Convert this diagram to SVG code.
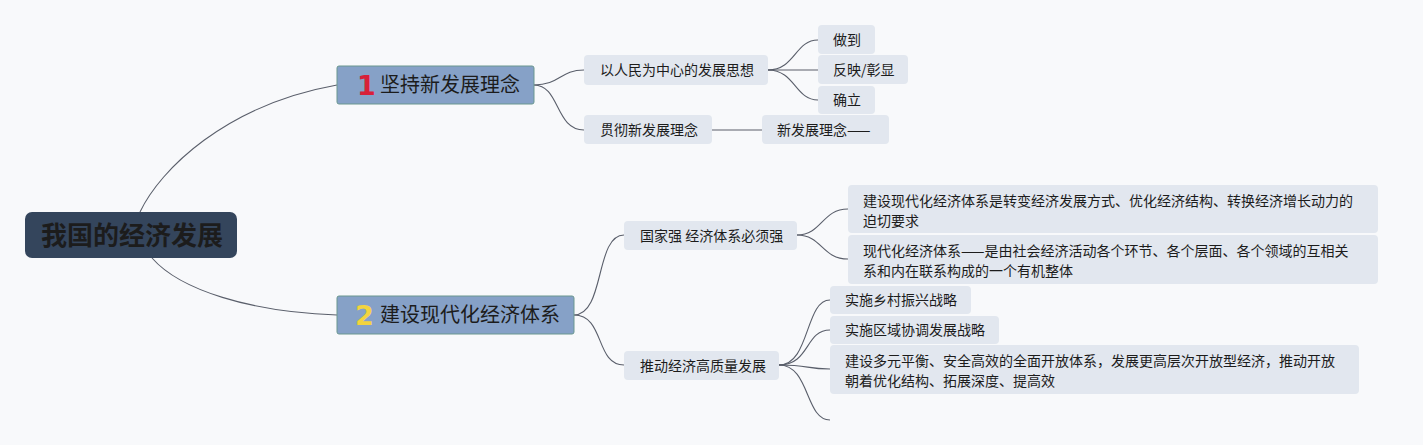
<svg xmlns="http://www.w3.org/2000/svg" width="1423" height="445" viewBox="0 0 1423 445">
<style>
.bg{fill:#f8f9fb}
.c{fill:none;stroke:#5a5f6b;stroke-width:1.1}
.main{fill:#34455c}
.sub{fill:#86a1c7;stroke:#6a978f;stroke-width:1}
.leaf{fill:#e2e7ef}
.t{font-family:"Noto Sans CJK SC","Noto Sans",sans-serif;fill:#1c1c1c}
.s14{font-size:14px}
.s20{font-size:20px}
.num{font-family:"DejaVu Sans","Liberation Sans",sans-serif;font-weight:bold;font-size:27px}
</style>
<rect class="bg" x="0" y="0" width="1423" height="445"/>
<g id="connectors">
<path class="c" d="M140,212 C160,170 225,105 337,85"/>
<path class="c" d="M152,258 C180,290 250,312 337,315"/>
<path class="c" d="M534,85 C560,85 560,70 584,70"/>
<path class="c" d="M534,85 C560,85 555,130 584,130"/>
<path class="c" d="M768,70 C795,70 795,40 818,40"/>
<path class="c" d="M768,70 L818,70"/>
<path class="c" d="M768,70 C795,70 795,100 818,100"/>
<path class="c" d="M712,130 L762,130"/>
<path class="c" d="M574,315 C605,315 595,235 624,235"/>
<path class="c" d="M574,315 C605,315 595,365 624,365"/>
<path class="c" d="M797,235 C822,235 822,209 848,209"/>
<path class="c" d="M797,235 C822,235 822,259 848,259"/>
<path class="c" d="M779,365 C810,365 805,300 830,300"/>
<path class="c" d="M779,365 C810,365 805,330 830,330"/>
<path class="c" d="M779,365 C810,365 805,369 830,369"/>
<path class="c" d="M779,365 C810,365 805,420 830,420"/>
</g>
<g id="root">
<rect class="main" x="25" y="212" width="212" height="46" rx="7"/>
<text class="t" x="41" y="245" font-size="26" font-weight="bold" fill="#111">我国的经济发展</text>
</g>
<g id="n1">
<rect class="sub" x="337" y="66" width="197" height="38" rx="2"/>
<text class="num" x="357" y="95" fill="#d8203a">1</text>
<text class="t s20" x="380" y="92">坚持新发展理念</text>
</g>
<g id="n2">
<rect class="sub" x="337" y="296" width="237" height="38" rx="2"/>
<text class="num" x="355" y="325" fill="#f3d43e">2</text>
<text class="t s20" x="380" y="322">建设现代化经济体系</text>
</g>
<g id="n1a">
<rect class="leaf" x="584" y="55" width="184" height="30" rx="4"/>
<text class="t s14" x="600" y="75">以人民为中心的发展思想</text>
</g>
<g id="n1b">
<rect class="leaf" x="584" y="115" width="128" height="29" rx="4"/>
<text class="t s14" x="600" y="135">贯彻新发展理念</text>
</g>
<g id="n1a1">
<rect class="leaf" x="818" y="25" width="57" height="29" rx="4"/>
<text class="t s14" x="833" y="45">做到</text>
</g>
<g id="n1a2">
<rect class="leaf" x="818" y="55" width="90" height="29" rx="4"/>
<text class="t s14" x="833" y="75">反映/彰显</text>
</g>
<g id="n1a3">
<rect class="leaf" x="818" y="86" width="57" height="28" rx="4"/>
<text class="t s14" x="833" y="105">确立</text>
</g>
<g id="n1b1">
<rect class="leaf" x="762" y="115" width="127" height="29" rx="4"/>
<text class="t s14" x="777" y="135">新发展理念——</text>
</g>
<g id="n2a">
<rect class="leaf" x="624" y="221" width="173" height="29" rx="4"/>
<text class="t s14" x="640" y="241">国家强 经济体系必须强</text>
</g>
<g id="n2b">
<rect class="leaf" x="624" y="351" width="155" height="29" rx="4"/>
<text class="t s14" x="640" y="371">推动经济高质量发展</text>
</g>
<g id="n2a1">
<rect class="leaf" x="848" y="185" width="530" height="48" rx="4"/>
<text class="t s14" x="863" y="206">建设现代化经济体系是转变经济发展方式、优化经济结构、转换经济增长动力的</text>
<text class="t s14" x="863" y="226">迫切要求</text>
</g>
<g id="n2a2">
<rect class="leaf" x="848" y="235" width="530" height="49" rx="4"/>
<text class="t s14" x="863" y="256">现代化经济体系——是由社会经济活动各个环节、各个层面、各个领域的互相关</text>
<text class="t s14" x="863" y="276">系和内在联系构成的一个有机整体</text>
</g>
<g id="n2b1">
<rect class="leaf" x="830" y="286" width="141" height="28" rx="4"/>
<text class="t s14" x="845" y="305">实施乡村振兴战略</text>
</g>
<g id="n2b2">
<rect class="leaf" x="830" y="316" width="169" height="28" rx="4"/>
<text class="t s14" x="845" y="335">实施区域协调发展战略</text>
</g>
<g id="n2b3">
<rect class="leaf" x="830" y="345" width="529" height="49" rx="4"/>
<text class="t s14" x="845" y="366">建设多元平衡、安全高效的全面开放体系，发展更高层次开放型经济，推动开放</text>
<text class="t s14" x="845" y="386">朝着优化结构、拓展深度、提高效</text>
</g>
</svg>
